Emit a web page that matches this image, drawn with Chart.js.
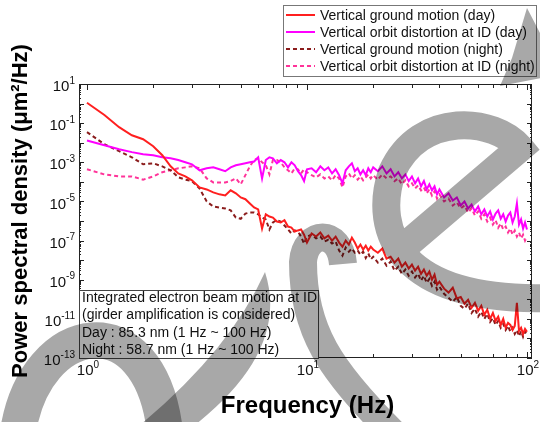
<!DOCTYPE html>
<html>
<head>
<meta charset="utf-8">
<script src="https://cdn.jsdelivr.net/npm/chart.js@4.4.0/dist/chart.umd.min.js"></script>
<style>
body { margin: 0; background: #fff; }
</style>
</head>
<body>
<canvas id="myChart" width="540" height="422"></canvas>
<script>

// frequency (Hz)
let freq = [1, 1.2, 1.4, 1.6, 1.8, 2, 2.2, 2.4, 2.6, 2.8,
    3, 3.25, 3.5, 3.75, 4, 4.25, 4.5, 4.75, 5, 5.25,
    5.5, 5.75, 6, 6.25, 6.5, 6.75, 7, 7.3, 7.6, 7.9,
    8.2, 8.5, 8.8, 9.1, 9.4, 9.7, 10,
    10.5, 11, 11.5, 12, 12.5, 13, 13.5, 14, 14.5, 15,
    15.5, 16, 16.5, 17, 17.5, 18, 18.5, 19, 19.5, 20,
    21, 22, 23, 24, 25, 26, 27, 28, 29, 30,
    31, 32, 33, 34, 35, 36, 37, 38, 39, 40,
    42, 44, 46, 48, 50, 52, 54, 56, 58, 60,
    62, 64, 66, 68, 70, 72, 74, 76, 78, 80,
    82, 84, 86, 88, 90, 92, 94, 96, 98, 100]

// PSD (um^2/Hz)
let ground_day = [1.1, 0.26, 0.062, 0.024, 0.015, 6.6e-3, 2.3e-3, 6.2e-4, 2.7e-4, 1.9e-4,
    1.2e-4, 5.2e-5, 4.1e-5, 2.9e-5, 2.3e-5, 2.0e-5, 3.7e-5, 2.6e-5, 1.6e-5, 1.3e-5,
    7.9e-6, 4.9e-6, 3.9e-6, 4.1e-7, 2.2e-6, 1.7e-6, 1.5e-6, 9.4e-7, 8.4e-7, 1.1e-6,
    5.2e-7, 4.6e-7, 2.9e-7, 3.3e-7, 3.7e-7, 2.0e-7, 7.9e-8,
    2.3e-7, 1.6e-7, 2.6e-7, 1.3e-7, 1.8e-7, 1.0e-7, 1.6e-7, 7.9e-8, 4.9e-8, 1.0e-7,
    6.2e-8, 1.4e-7, 7.9e-8, 3.9e-8, 6.2e-8, 3.5e-8, 5.5e-8, 3.1e-8, 4.9e-8, 3.5e-8,
    2.4e-8, 3.9e-8, 1.2e-8, 1.5e-8, 7.5e-9, 1.2e-8, 4.6e-9, 7.5e-9, 3.7e-9, 5.9e-9,
    2.9e-9, 4.6e-9, 2.0e-9, 3.3e-9, 1.6e-9, 2.6e-9, 1.0e-9, 1.8e-9, 5.5e-10, 7.9e-10,
    3.5e-10, 2.2e-10, 3.9e-10, 1.1e-10, 1.3e-10, 5.9e-11, 9.4e-11, 3.7e-11, 6.6e-11, 2.6e-11,
    4.6e-11, 1.6e-11, 2.9e-11, 1.0e-11, 2.0e-11, 7.9e-12, 1.3e-11, 4.9e-12, 1.0e-11, 3.5e-12,
    6.2e-12, 4.9e-12, 2.7e-12, 4.4e-12, 6.6e-11, 2.4e-12, 3.5e-12, 1.7e-12, 3.1e-12, 2.2e-12]

let orbit_day = [1.3e-2, 7.5e-3, 4.6e-3, 3.3e-3, 2.6e-3, 2.3e-3, 1.8e-3, 1.6e-3, 1.3e-3, 1.0e-3,
    7.9e-4, 3.9e-4, 4.9e-4, 5.5e-4, 4.4e-4, 3.5e-4, 5.5e-4, 7.0e-4, 7.9e-4, 8.9e-4,
    1.0e-3, 1.1e-3, 1.8e-3, 1.5e-4, 1.3e-3, 1.8e-3, 1.6e-3, 8.9e-4, 1.3e-3, 1.0e-3,
    5.5e-4, 1.0e-3, 7.0e-4, 3.5e-4, 2.2e-4, 1.1e-4, 4.4e-4,
    4.9e-4, 3.1e-4, 6.2e-4, 3.9e-4, 5.5e-4, 2.7e-4, 4.4e-4, 2.2e-4, 8.4e-5, 3.9e-4,
    6.2e-4, 8.9e-4, 3.5e-4, 4.9e-4, 2.4e-4, 3.9e-4, 2.2e-4, 4.9e-4, 3.1e-4, 5.5e-4,
    3.5e-4, 6.2e-4, 2.7e-4, 4.4e-4, 1.9e-4, 3.1e-4, 1.5e-4, 2.4e-4, 1.1e-4, 1.9e-4,
    8.4e-5, 1.5e-4, 5.9e-5, 1.1e-4, 4.1e-5, 7.5e-5, 3.7e-5, 5.9e-5, 2.3e-5, 4.1e-5,
    1.6e-5, 2.6e-5, 1.1e-5, 1.6e-5, 6.2e-6, 1.0e-5, 4.4e-6, 7.0e-6, 3.1e-6, 5.5e-6,
    2.2e-6, 3.9e-6, 1.7e-6, 3.1e-6, 1.2e-6, 2.4e-6, 3.5e-6, 1.3e-6, 2.2e-6, 9.4e-7,
    1.9e-6, 2.7e-6, 8.4e-7, 1.7e-6, 7.9e-6, 6.6e-7, 1.2e-6, 4.1e-7, 8.4e-7, 3.7e-7]

let ground_night = [3.5e-2, 8.4e-3, 3.7e-3, 1.8e-3, 7.9e-4, 8.9e-4, 6.2e-4, 3.9e-4, 1.7e-4, 1.3e-4,
    1.1e-4, 4.6e-5, 1.0e-5, 5.5e-6, 4.9e-6, 4.4e-6, 3.5e-6, 1.5e-6, 1.3e-6, 2.4e-6,
    2.7e-6, 2.7e-6, 2.2e-6, 1.5e-6, 1.2e-6, 3.7e-7, 8.4e-7, 1.1e-6, 9.4e-7, 5.9e-7,
    3.7e-7, 2.3e-7, 3.3e-7, 2.9e-7, 1.6e-7, 7.0e-8, 1.6e-7,
    2.0e-7, 1.3e-7, 1.6e-7, 8.9e-8, 1.1e-7, 7.0e-8, 8.9e-8, 3.1e-8, 1.7e-8, 4.4e-8,
    2.7e-8, 3.9e-8, 2.4e-8, 3.1e-8, 1.9e-8, 2.7e-8, 1.3e-8, 2.2e-8, 1.1e-8, 1.5e-8,
    7.5e-9, 1.2e-8, 5.2e-9, 8.4e-9, 2.9e-9, 4.6e-9, 2.0e-9, 3.3e-9, 1.6e-9, 2.6e-9,
    1.3e-9, 2.0e-9, 8.9e-10, 1.6e-9, 7.0e-10, 1.1e-9, 4.9e-10, 7.9e-10, 3.1e-10, 4.4e-10,
    1.9e-10, 1.2e-10, 7.5e-11, 1.3e-10, 4.6e-11, 3.3e-11, 5.9e-11, 2.0e-11, 3.3e-11, 1.3e-11,
    2.3e-11, 1.0e-11, 1.8e-11, 7.0e-12, 1.1e-11, 4.9e-12, 7.9e-12, 3.5e-12, 5.5e-12, 2.7e-12,
    4.4e-12, 2.2e-12, 3.5e-12, 1.7e-12, 2.7e-12, 1.3e-12, 2.4e-12, 1.2e-12, 2.2e-12, 1.5e-12]

let orbit_night = [4.4e-4, 2.4e-4, 1.9e-4, 1.9e-4, 1.3e-4, 1.9e-4, 3.1e-4, 3.9e-4, 4.9e-4, 5.5e-4,
    6.2e-4, 4.9e-4, 1.5e-4, 9.4e-5, 9.4e-5, 9.4e-5, 1.1e-4, 1.5e-4, 7.5e-5, 2.2e-4,
    6.2e-4, 1.3e-3, 1.6e-3, 1.0e-3, 7.0e-4, 2.4e-4, 1.3e-3, 1.3e-3, 1.0e-3, 5.5e-4,
    3.9e-4, 2.7e-4, 4.9e-4, 4.4e-4, 2.7e-4, 4.4e-4, 3.1e-4,
    2.2e-4, 1.7e-4, 2.4e-4, 1.5e-4, 1.9e-4, 1.2e-4, 2.2e-4, 1.5e-4, 5.2e-5, 1.9e-4,
    2.7e-4, 1.5e-4, 2.2e-4, 1.3e-4, 1.9e-4, 1.2e-4, 1.7e-4, 2.4e-4, 1.5e-4, 2.2e-4,
    1.3e-4, 2.4e-4, 1.5e-4, 1.9e-4, 1.1e-4, 1.5e-4, 7.5e-5, 1.2e-4, 5.9e-5, 8.4e-5,
    4.6e-5, 6.6e-5, 3.7e-5, 5.2e-5, 2.6e-5, 4.1e-5, 2.0e-5, 3.3e-5, 1.4e-5, 2.3e-5,
    1.0e-5, 1.4e-5, 6.2e-6, 8.9e-6, 4.4e-6, 6.2e-6, 2.7e-6, 4.4e-6, 1.9e-6, 3.1e-6,
    1.3e-6, 2.2e-6, 9.4e-7, 1.5e-6, 6.6e-7, 1.1e-6, 4.6e-7, 7.5e-7, 3.7e-7, 5.2e-7,
    2.6e-7, 4.1e-7, 2.0e-7, 3.3e-7, 1.6e-7, 2.6e-7, 1.3e-7, 2.0e-7, 1.0e-7, 1.6e-7]

let series_names = ['Vertical ground motion (day)', 'Vertical orbit distortion at ID (day)',
    'Vertical ground motion (night)', 'Vertical orbit distortion at ID (night)']
let series_colors = ['#ff1f1f', '#ff00ff', '#8b1c1c', '#ff3399']
let series_dash = [[], [], [4, 3], [4, 3]]

let x_tick_labels = [1, 10, 100]
let y_tick_labels = [1e1, 1e-1, 1e-3, 1e-5, 1e-7, 1e-9, 1e-11, 1e-13]

let note_lines = ['Integrated electron beam motion at ID', '(girder amplification is considered)',
    'Day : 85.3 nm (1 Hz ~ 100 Hz)', 'Night : 58.7 nm (1 Hz ~ 100 Hz)']

let all_series = [ground_day, orbit_day, ground_night, orbit_night]

function points(vals) {
    let out = []
    for (let i = 0; i < freq.length; i++) out.push({ x: freq[i], y: vals[i] })
    return out
}

let datasets = []
for (let i = 0; i < all_series.length; i++) {
    datasets.push({
        label: series_names[i],
        data: points(all_series[i]),
        borderColor: series_colors[i],
        borderWidth: 2,
        borderDash: series_dash[i],
        pointRadius: 0,
        tension: 0,
        fill: false
    })
}

const FONT = '"Liberation Sans", Arial, sans-serif'

function pow10(ctx, v, x, y, align) {
    let e = Math.round(Math.log10(v))
    ctx.font = '15px ' + FONT
    let wb = ctx.measureText('10').width
    ctx.font = '10px ' + FONT
    let we = ctx.measureText(String(e)).width
    let x0 = align === 'right' ? x - wb - we : x - (wb + we) / 2
    ctx.textAlign = 'left'
    ctx.textBaseline = 'middle'
    ctx.font = '15px ' + FONT
    ctx.fillText('10', x0, y)
    ctx.font = '10px ' + FONT
    ctx.fillText(String(e), x0 + wb, y - 6)
}

function watermark(ctx) {
    ctx.save()
    ctx.globalCompositeOperation = 'multiply'
    ctx.strokeStyle = '#a8a8a8'
    ctx.fillStyle = '#a8a8a8'
    ctx.lineJoin = 'miter'
    ctx.miterLimit = 3
    // e
    ctx.lineWidth = 28
    ctx.beginPath()
    ctx.moveTo(398, 252)
    ctx.lineTo(520, 148)
    ctx.bezierCurveTo(495, 118, 420, 110, 392, 172)
    ctx.bezierCurveTo(372, 232, 400, 302, 548, 298)
    ctx.stroke()
    // r
    ctx.lineWidth = 28
    ctx.beginPath()
    ctx.moveTo(392, 432)
    ctx.bezierCurveTo(330, 370, 303, 330, 303, 262)
    ctx.bezierCurveTo(305, 230, 340, 228, 343, 264)
    ctx.stroke()
    // left arch
    ctx.lineWidth = 36
    ctx.beginPath()
    ctx.moveTo(18, 432)
    ctx.bezierCurveTo(35, 320, 150, 300, 165, 432)
    ctx.stroke()
    // wedge
    ctx.beginPath()
    ctx.moveTo(265, 272)
    ctx.quadraticCurveTo(290, 350, 195, 425)
    ctx.lineTo(140, 425)
    ctx.quadraticCurveTo(230, 350, 265, 272)
    ctx.fill()
    // small stroke at legend corner
    ctx.beginPath()
    ctx.moveTo(527, 8)
    ctx.lineTo(541, 35)
    ctx.lineTo(541, 78)
    ctx.lineTo(500, 86)
    ctx.lineTo(512, 58)
    ctx.closePath()
    ctx.fill()
    ctx.restore()
}

const decor = {
    id: 'decor',
    afterDraw(chart) {
        let ctx = chart.ctx
        let a = chart.chartArea
        let xs = chart.scales.x
        let ys = chart.scales.y
        ctx.save()

        // frame
        ctx.strokeStyle = '#222'
        ctx.lineWidth = 1
        ctx.strokeRect(a.left + 0.5, a.top + 0.5, a.right - a.left - 1, a.bottom - a.top - 1)

        // x ticks, inward, top and bottom
        ctx.beginPath()
        for (let d = 0; d <= 1; d++) {
            for (let m = 1; m <= 10; m++) {
                if (d === 1 && m === 1) continue
                let px = Math.round(xs.getPixelForValue(m * Math.pow(10, d))) + 0.5
                let len = (m === 1 || m === 10) ? 6 : 4
                ctx.moveTo(px, a.bottom); ctx.lineTo(px, a.bottom - len)
                ctx.moveTo(px, a.top); ctx.lineTo(px, a.top + len)
            }
        }
        // y ticks
        for (let e = -13; e <= 1; e++) {
            let py = Math.round(ys.getPixelForValue(Math.pow(10, e))) + 0.5
            ctx.moveTo(a.left, py); ctx.lineTo(a.left + 5, py)
            ctx.moveTo(a.right, py); ctx.lineTo(a.right - 5, py)
            if (e < 1) {
                for (let m = 2; m <= 9; m++) {
                    let q = Math.round(ys.getPixelForValue(m * Math.pow(10, e))) + 0.5
                    ctx.moveTo(a.left, q); ctx.lineTo(a.left + 2, q)
                    ctx.moveTo(a.right, q); ctx.lineTo(a.right - 2, q)
                }
            }
        }
        ctx.stroke()

        // tick labels
        ctx.fillStyle = '#111'
        for (let v of x_tick_labels) {
            pow10(ctx, v, xs.getPixelForValue(v) + 1, a.bottom + 13, 'center')
        }
        for (let v of y_tick_labels) {
            pow10(ctx, v, a.left - 4, ys.getPixelForValue(v) + 3, 'right')
        }

        // axis titles
        ctx.fillStyle = '#000'
        ctx.font = 'bold 24px ' + FONT
        ctx.textAlign = 'center'
        ctx.textBaseline = 'alphabetic'
        ctx.fillText('Frequency (Hz)', (a.left + a.right) / 2 + 2, 413)
        ctx.save()
        ctx.font = 'bold 22px ' + FONT
        ctx.translate(27, 211)
        ctx.rotate(-Math.PI / 2)
        ctx.fillText('Power spectral density (\u03bcm\u00b2/Hz)', 0, 0)
        ctx.restore()

        // legend
        ctx.fillStyle = '#fff'
        ctx.fillRect(283, 5, 254, 72)
        ctx.strokeStyle = '#777'
        ctx.lineWidth = 1
        ctx.strokeRect(283.5, 5.5, 253, 71)
        ctx.font = '14px ' + FONT
        ctx.textAlign = 'left'
        ctx.textBaseline = 'middle'
        for (let i = 0; i < series_names.length; i++) {
            let ly = 15 + i * 17
            ctx.strokeStyle = series_colors[i]
            ctx.lineWidth = 2
            ctx.setLineDash(series_dash[i])
            ctx.beginPath()
            ctx.moveTo(286, ly); ctx.lineTo(315, ly)
            ctx.stroke()
            ctx.setLineDash([])
            ctx.fillStyle = '#111'
            ctx.fillText(series_names[i], 320, ly + 1)
        }

        // note box
        ctx.fillStyle = '#fff'
        ctx.fillRect(79, 290, 239, 68)
        ctx.strokeStyle = '#444'
        ctx.lineWidth = 1
        ctx.strokeRect(79.5, 290.5, 239, 68)
        ctx.fillStyle = '#111'
        ctx.font = '14px ' + FONT
        for (let i = 0; i < note_lines.length; i++) {
            ctx.fillText(note_lines[i], 82, 298 + i * 17.5)
        }
        ctx.restore()

        watermark(ctx)
    }
}

let ctx = document.getElementById('myChart').getContext('2d')
let myChart = new Chart(ctx, {
    type: 'line',
    data: { datasets: datasets },
    options: {
        responsive: false,
        animation: false,
        devicePixelRatio: 1,
        layout: { padding: { left: 79, right: 8, top: 84, bottom: 64 } },
        plugins: { legend: { display: false }, tooltip: { enabled: false } },
        scales: {
            x: { type: 'logarithmic', min: 0.92, max: 105.4, display: false },
            y: { type: 'logarithmic', min: 1e-13, max: 10, display: false }
        }
    },
    plugins: [decor]
})
</script>
</body>
</html>
